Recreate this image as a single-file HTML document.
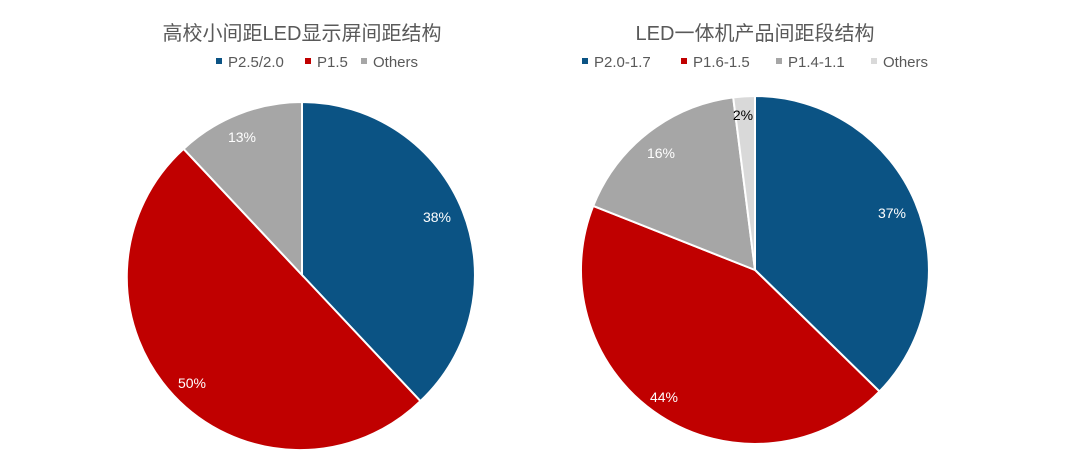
<!DOCTYPE html>
<html><head><meta charset="utf-8"><style>
html,body{margin:0;padding:0;background:#fff;}
svg{display:block;}
text{font-family:"Liberation Sans","Noto Sans CJK SC",sans-serif;}
</style></head><body>
<svg width="1080" height="459" viewBox="0 0 1080 459" xmlns="http://www.w3.org/2000/svg">
<rect width="1080" height="459" fill="#fff"/>
<text x="302" y="40" font-size="20" fill="#595959" text-anchor="middle">高校小间距LED显示屏间距结构</text>
<g font-size="15" fill="#595959">
<rect x="216" y="58" width="6" height="6" fill="#0b5384"/><text x="228" y="67">P2.5/2.0</text>
<rect x="305" y="58" width="6" height="6" fill="#c00000"/><text x="317" y="67">P1.5</text>
<rect x="361" y="58" width="6" height="6" fill="#a6a6a6"/><text x="373" y="67">Others</text>
</g>
<g stroke="#fff" stroke-width="2">
<path d="M302,275 L302,102 A173,173 0 0 1 420.4,401.1 Z" fill="#0b5384"/>
<path d="M302,275 L420.4,401.1 A173,173 0 1 1 183.6,148.9 Z" fill="#c00000"/>
<path d="M302,275 L183.6,148.9 A173,173 0 0 1 302,102 Z" fill="#a6a6a6"/>
</g>
<g font-size="14" fill="#fff" text-anchor="middle">
<text x="437" y="222">38%</text>
<text x="192" y="388">50%</text>
<text x="242" y="142">13%</text>
</g>

<text x="755" y="40" font-size="20" fill="#595959" text-anchor="middle">LED一体机产品间距段结构</text>
<g font-size="15" fill="#595959">
<rect x="582" y="58" width="6" height="6" fill="#0b5384"/><text x="594" y="67">P2.0-1.7</text>
<rect x="681" y="58" width="6" height="6" fill="#c00000"/><text x="693" y="67">P1.6-1.5</text>
<rect x="776" y="58" width="6" height="6" fill="#a6a6a6"/><text x="788" y="67">P1.4-1.1</text>
<rect x="871" y="58" width="6" height="6" fill="#d9d9d9"/><text x="883" y="67">Others</text>
</g>
<g stroke="#fff" stroke-width="2">
<path d="M755,270 L755,96 A174,174 0 0 1 879.5,391.5 Z" fill="#0b5384"/>
<path d="M755,270 L879.5,391.5 A174,174 0 0 1 593.2,205.9 Z" fill="#c00000"/>
<path d="M755,270 L593.2,205.9 A174,174 0 0 1 733.2,97.4 Z" fill="#a6a6a6"/>
<path d="M755,270 L733.2,97.4 A174,174 0 0 1 755,96 Z" fill="#d9d9d9"/>
</g>
<g font-size="14" fill="#fff" text-anchor="middle">
<text x="892" y="218">37%</text>
<text x="664" y="402">44%</text>
<text x="661" y="158">16%</text>
<text x="743" y="120" fill="#000">2%</text>
</g>
</svg>
</body></html>
